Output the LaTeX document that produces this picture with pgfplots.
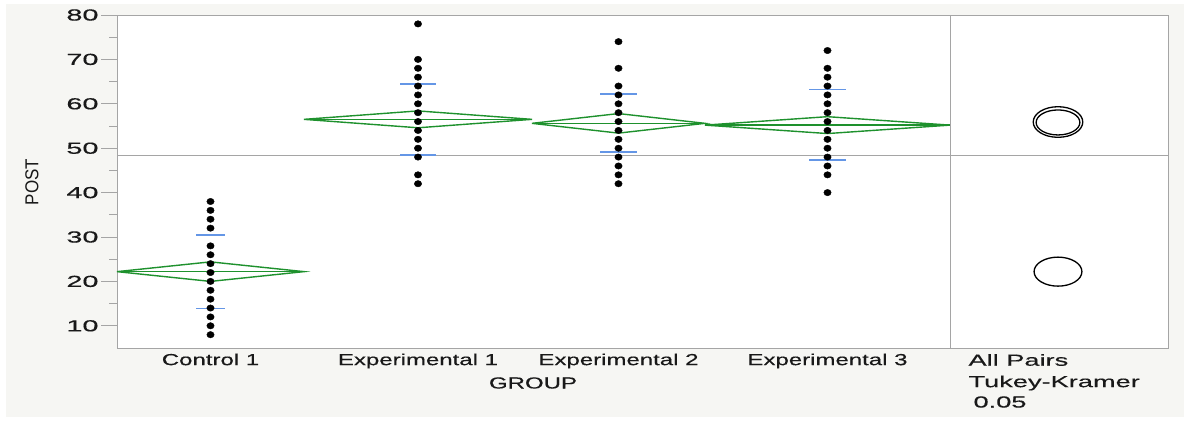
\documentclass[border=0pt]{standalone}
\usepackage{pgfplots}
\pgfplotsset{compat=1.18}
\usepackage{fontspec}
\setmainfont{Liberation Sans}
\newfontfamily\ticksans[FakeStretch=1.8,FakeBold=0.5]{Liberation Sans}
\newfontfamily\labsans[FakeStretch=1.5,FakeBold=0.4]{Liberation Sans}
\newfontfamily\widesans[FakeStretch=1.7,FakeBold=0.4]{Liberation Sans}

\definecolor{bg}{RGB}{246,246,243}
\definecolor{frame}{RGB}{165,165,165}
\definecolor{dia}{RGB}{30,145,45}
\definecolor{sdblue}{RGB}{100,150,230}
\definecolor{txt}{RGB}{25,25,25}

% group centres / edges in axis units (1 unit = 1px)
\pgfplotstableread{
x y
93.5 8
93.5 10
93.5 12
93.5 14
93.5 16
93.5 18
93.5 20
93.5 22
93.5 24
93.5 26
93.5 28
93.5 32
93.5 34
93.5 36
93.5 38
}\ctrl
\pgfplotstableread{
x y
301 42
301 44
301 48
301 50
301 52
301 54
301 56
301 58
301 60
301 62
301 64
301 66
301 68
301 70
301 78
}\expA
\pgfplotstableread{
x y
501.5 42
501.5 44
501.5 46
501.5 48
501.5 50
501.5 52
501.5 54
501.5 56
501.5 58
501.5 60
501.5 62
501.5 64
501.5 68
501.5 74
}\expB
\pgfplotstableread{
x y
710.5 40
710.5 44
710.5 46
710.5 48
710.5 50
710.5 52
710.5 54
710.5 56
710.5 58
710.5 60
710.5 62
710.5 64
710.5 66
710.5 68
710.5 72
}\expC

\begin{document}
\begin{tikzpicture}[x=1pt,y=1pt]
\useasboundingbox (0,0) rectangle (1184,421);
\fill[bg] (6,4) rectangle (1184,417);

\begin{axis}[
  at={(117pt,73pt)}, anchor=south west,
  scale only axis, width=833pt, height=333pt,
  xmin=0, xmax=833, ymin=5, ymax=80,
  axis background/.style={fill=white},
  axis line style={frame, line width=0.9pt},
  tick align=outside,
  ytick={10,20,...,80},
  minor ytick={15,25,...,75},
  major tick length=16pt, minor tick length=8pt,
  every tick/.style={frame, line width=0.8pt},
  /pgf/number format/assume math mode=true,
  yticklabel style={font=\fontsize{16}{17}\selectfont\ticksans, text=txt, xshift=1pt},
  xtick={93.5,301,501.5,710.5},
  xticklabels={Control 1, Experimental 1, Experimental 2, Experimental 3},
  xtick style={draw=none},
  xticklabel style={font=\fontsize{16}{17}\selectfont\labsans, text=txt, yshift=14pt},
  extra x ticks={187,415,588},
  extra x tick labels={},
  extra x tick style={major tick length=7pt, tick style={draw=frame, line width=0.7pt}},
  clip=false,
]
% grand mean
\addplot[frame, line width=0.9pt] coordinates {(0,48.3) (833,48.3)};
% means diamonds
\addplot[dia, line width=1.4pt] coordinates {(0,22.2) (93.5,24.4) (187,22.2) (93.5,20.0) (0,22.2)};
\addplot[dia, line width=1.3pt] coordinates {(0,22.2) (187,22.2)};
\addplot[dia, line width=1.4pt] coordinates {(187,56.5) (301,58.4) (415,56.5) (301,54.6) (187,56.5)};
\addplot[dia, line width=1.3pt] coordinates {(187,56.5) (415,56.5)};
\addplot[dia, line width=1.4pt] coordinates {(415,55.6) (501.5,57.8) (588,55.6) (501.5,53.4) (415,55.6)};
\addplot[dia, line width=1.3pt] coordinates {(415,55.6) (588,55.6)};
\addplot[dia, line width=1.4pt] coordinates {(588,55.2) (710.5,57.1) (833,55.2) (710.5,53.3) (588,55.2)};
\addplot[dia, line width=1.3pt] coordinates {(588,55.2) (833,55.2)};
% std dev lines
\addplot[sdblue, line width=1.5pt] coordinates {(79,30.4) (108,30.4)};
\addplot[sdblue, line width=1.5pt] coordinates {(79,13.9) (108,13.9)};
\addplot[sdblue, line width=1.5pt] coordinates {(283,64.5) (319,64.5)};
\addplot[sdblue, line width=1.5pt] coordinates {(283,48.5) (319,48.5)};
\addplot[sdblue, line width=1.5pt] coordinates {(483,62.2) (520,62.2)};
\addplot[sdblue, line width=1.5pt] coordinates {(483,49.1) (520,49.1)};
\addplot[sdblue, line width=1.5pt] coordinates {(692,63.2) (729,63.2)};
\addplot[sdblue, line width=1.5pt] coordinates {(692,47.3) (729,47.3)};
% observations
\addplot[only marks, mark=*, mark size=3.2pt, mark options={black, xscale=1.15}] table {\ctrl};
\addplot[only marks, mark=*, mark size=3.2pt, mark options={black, xscale=1.15}] table {\expA};
\addplot[only marks, mark=*, mark size=3.2pt, mark options={black, xscale=1.15}] table {\expB};
\addplot[only marks, mark=*, mark size=3.2pt, mark options={black, xscale=1.15}] table {\expC};
\end{axis}

\begin{axis}[
  at={(950pt,73pt)}, anchor=south west,
  scale only axis, width=218pt, height=333pt,
  xmin=0, xmax=218, ymin=5, ymax=80,
  axis background/.style={fill=white},
  axis line style={frame, line width=0.9pt},
  xtick=\empty, ytick=\empty,
  clip=false,
]
\addplot[frame, line width=0.9pt] coordinates {(0,48.3) (218,48.3)};
% comparison circles
\addplot[only marks, mark=o, mark size=15.3pt, mark options={black, line width=1.3pt, xscale=1.62}] coordinates {(108,55.9)};
\addplot[only marks, mark=o, mark size=12.5pt, mark options={black, line width=1.3pt, xscale=1.75}] coordinates {(108,55.8)};
\addplot[only marks, mark=o, mark size=14.5pt, mark options={black, line width=1.3pt, xscale=1.65}] coordinates {(108,22.2)};
\end{axis}

\node[rotate=90, text=txt, font=\fontsize{17}{18}\selectfont] at (32,239) {\scalebox{1}[1.1]{POST}};
\node[text=txt, font=\fontsize{16}{17}\selectfont\labsans] at (533,38) {GROUP};
\node[anchor=west, text=txt, font=\fontsize{16}{17}\selectfont\widesans] at (965,61) {All Pairs};
\node[anchor=west, text=txt, font=\fontsize{16}{17}\selectfont\widesans] at (965,38) {Tukey-Kramer};
\node[anchor=west, text=txt, font=\fontsize{16}{17}\selectfont\widesans] at (970,19) {0.05};
\end{tikzpicture}
\end{document}
